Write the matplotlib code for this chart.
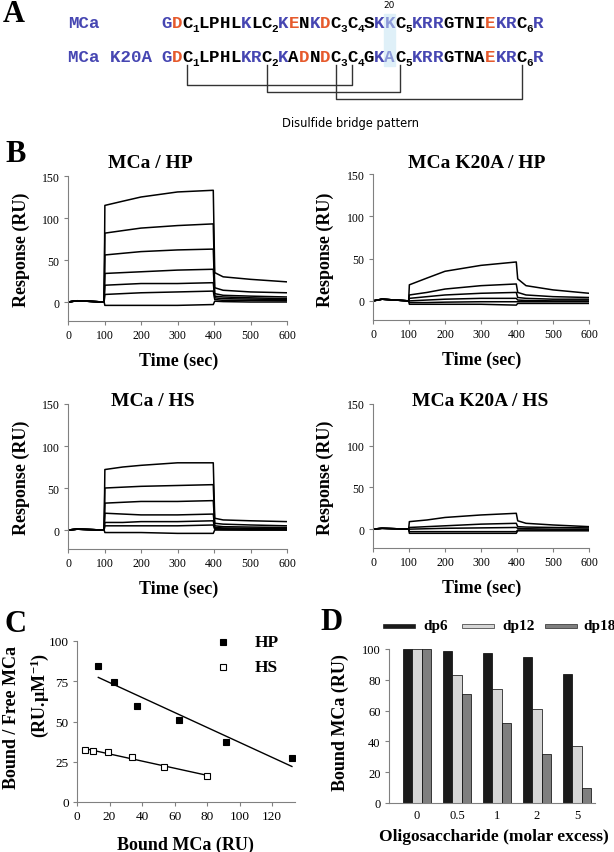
import numpy as np
import matplotlib
matplotlib.use('Agg')
import matplotlib.pyplot as plt
from matplotlib.patches import Rectangle
from matplotlib.lines import Line2D

plt.rcParams['font.family'] = ['Liberation Serif', 'DejaVu Serif']
plt.rcParams['mathtext.default'] = 'regular'

# ---------- data ----------
# panel A
seq_wt = "GDC1LPHLKLC2KENKDC3C4SKKC5KRRGTNIEKRC6R"
col_wt = "brkkkkkbkkbrkbrkkkblkbbbkkkkrbbkb"
seq_mut = "GDC1LPHLKRC2KADNDC3C4GKAC5KRRGTNAEKRC6R"
col_mut = "brkkkkkbbkbkrkrkkkblkbbbkkkkrbbkb"
bridges = [(1, 4), (2, 5), (3, 6)]

# panel B : sensorgrams (RU) read at these times (sec)
t = [0, 25, 99, 101, 150, 200, 300, 398, 402, 425, 500, 600]
hp_wt = [
    [0, 1.5, 0, 115, 120, 125, 131, 133, 35, 30, 27, 24],
    [0, 1.5, 0, 82, 85, 88, 91, 93, 17, 14, 12, 11],
    [0, 1.5, 0, 56, 58, 60, 62, 63, 10, 8, 7, 6],
    [0, 1.5, 0, 34, 35, 36, 38, 39, 7, 6, 5, 4],
    [0, 1.5, 0, 20, 21, 22, 22, 23, 5, 4, 3.5, 3],
    [0, 1.5, 0, 9, 10, 11, 12, 13, 3, 2, 2, 1.5],
    [0, 1.5, 0, -4, -4, -4, -4, -3, 1, 0.5, 0, 0],
]
hp_mut = [
    [0, 2, 0, 19, 27, 35, 42, 46, 26, 18, 13, 9],
    [0, 2, 0, 7, 10, 14, 18, 20, 10, 7, 5, 4],
    [0, 2, 0, 3, 5, 7, 9, 10, 4, 3, 2, 2],
    [0, 2, 0, 0, 1, 2, 3, 3, 1, 0.5, 0, 0],
    [0, 2, 0, -2, -2, -1.5, -1, -1, -1, -1, -1, -1],
    [0, 2, 0, -4, -4, -4, -4, -5, -3, -3, -3, -3],
]
hs_wt = [
    [0, 1, 0, 72, 75, 77, 80, 80, 14, 12, 11, 10],
    [0, 1, 0, 50, 51, 52, 53, 54, 8, 7, 6, 5],
    [0, 1, 0, 32, 33, 34, 34, 35, 5, 4, 3.5, 3],
    [0, 1, 0, 20, 19, 18, 18, 19, 3, 2.5, 2, 1.5],
    [0, 1, 0, 9, 9, 10, 10, 11, 2, 1.5, 1, 1],
    [0, 1, 0, 5, 5, 5, 5, 6, 1, 0.5, 0, 0],
    [0, 1, 0, -3, -3, -3, -4, -4, 0, 0, 0, 0],
]
hs_mut = [
    [0, 1, 0, 9, 11, 14, 17, 19, 10, 7, 5, 3],
    [0, 1, 0, 2, 3, 4, 6, 7, 3, 2.5, 2, 1.5],
    [0, 1, 0, 0, 0.5, 1, 1.5, 2, 1, 0.5, 0, 0],
    [0, 1, 0, -3, -3, -3, -3, -3, -1, -1, -1, -1],
    [0, 1, 0, -5, -5, -5, -5, -5, -2, -2, -2, -2],
]

# panel C : Scatchard
hp_x = [13.1, 23, 37.1, 62.8, 91.5, 132.1]
hp_y = [84.3, 74.3, 59.8, 51.1, 37.1, 27.1]
hs_x = [4.9, 10.1, 19.3, 34.0, 53.7, 79.8]
hs_y = [32.5, 31.5, 30.9, 27.7, 21.9, 16.4]

# panel D : competition
excess = ['0', '0.5', '1', '2', '5']
dp6 = [100, 99, 97.5, 95, 84]
dp12 = [100, 83, 74, 61, 37]
dp18 = [100, 71, 52, 32, 10]

# ---------- helpers (pixel coords, y from top) ----------
W, H = 614, 853


def fx(x):
    return x / W


def fy(y):
    return 1 - y / H


def box(x0, y0, x1, y1):
    return [x0 / W, 1 - y1 / H, (x1 - x0) / W, (y1 - y0) / H]


fig = plt.figure(figsize=(6.14, 8.53), dpi=100)

BLUE = '#4646b2'
RED = '#e65a2c'
LIGHT = '#8c9ad8'
cmap = {'b': BLUE, 'r': RED, 'k': 'black', 'l': LIGHT}


def letter(x, y, s):
    fig.text(fx(x), fy(y), s, fontsize=22, fontweight='bold', va='baseline')


# ---------- panel A ----------
letter(3, 22, 'A')
mono = dict(family='Liberation Mono', fontweight='bold')
fig.text(fx(68), fy(28), 'MCa', color=BLUE, fontsize=12.6, va='baseline', **mono)
fig.text(fx(68), fy(62), 'MCa K20A', color=BLUE, fontsize=12.6, va='baseline', **mono)

fig.add_artist(Rectangle((fx(384), fy(67)), 11 / W, 52 / H, transform=fig.transFigure,
                         color='#dff0f8', zorder=0))
fig.text(fx(389), fy(6), '20', family='DejaVu Sans', fontsize=6.5, ha='center', va='center')


def draw_seq(seq, cols, base):
    x = 161
    ci = 0
    cpos = {}
    last_c = None
    for ch in seq:
        if ch.isdigit():
            fig.text(fx(x + 3), fy(base + 4), ch, color='black', fontsize=8,
                     ha='center', va='baseline', **mono)
            cpos[int(ch)] = last_c
            x += 6
        else:
            fig.text(fx(x + 5.25), fy(base), ch, color=cmap[cols[ci]], fontsize=12.6,
                     ha='center', va='baseline', **mono)
            if ch == 'C':
                last_c = x + 5.25
            ci += 1
            x += 10.5
    return cpos


draw_seq(seq_wt, col_wt, 28)
cpos = draw_seq(seq_mut, col_mut, 62)
for (a, b), yb in zip(bridges, [86, 93, 100]):
    xa, xb = cpos[a], cpos[b]
    fig.add_artist(Line2D([fx(xa), fx(xa), fx(xb), fx(xb)], [fy(66), fy(yb), fy(yb), fy(66)],
                          transform=fig.transFigure, color='#333333', lw=1))
fig.text(fx(351), fy(123), 'Disulfide bridge pattern', family='DejaVu Sans', fontsize=8.3,
         ha='center', va='center')

# ---------- panel B ----------
letter(5, 162, 'B')
GREY = '#808080'


def sensor(b, curves, title, tx, ty, lx, ly):
    ax = fig.add_axes(box(*b))
    for c in curves:
        ax.plot(t, c, color='black', lw=1.1)
    ax.set_xlim(0, 600)
    ax.set_ylim(-22, 150)
    ax.set_xticks(range(0, 601, 100))
    ax.set_yticks([0, 50, 100, 150])
    for s in ['top', 'right']:
        ax.spines[s].set_visible(False)
    for s in ['left', 'bottom']:
        ax.spines[s].set_color(GREY)
    ax.tick_params(direction='out', length=3, color=GREY, labelsize=8.5, pad=3)
    fig.text(fx(tx), fy(ty), title, fontsize=14, fontweight='bold', ha='center', va='baseline')
    fig.text(fx(lx), fy(ly), 'Response (RU)', fontsize=13, fontweight='bold',
             rotation=90, ha='center', va='center')
    fig.text(fx((b[0] + b[2]) / 2 + 1), fy(b[3] + 40), 'Time (sec)', fontsize=13,
             fontweight='bold', ha='center', va='center')
    return ax


sensor((68, 177, 287, 321.5), hp_wt, 'MCa / HP', 150, 168, 21, 250)
sensor((373, 175, 589, 320.5), hp_mut, 'MCa K20A / HP', 477, 168, 325, 250)
sensor((68, 405, 287, 549.5), hs_wt, 'MCa / HS', 153, 406, 21, 478)
sensor((373, 405, 589, 548.5), hs_mut, 'MCa K20A / HS', 480, 406, 325, 478)

# ---------- panel C ----------
letter(5, 632, 'C')
axc = fig.add_axes(box(77, 642, 295, 803))
for xs, ys, fc in [(hp_x, hp_y, 'black'), (hs_x, hs_y, 'white')]:
    k, b0 = np.polyfit(xs, ys, 1)
    xx = np.array([min(xs), max(xs)])
    axc.plot(xx, k * xx + b0, color='black', lw=1)
    axc.plot(xs, ys, 's', mfc=fc, mec='black', ms=5, mew=0.8, zorder=3)
axc.set_xlim(0, 134)
axc.set_ylim(0, 100)
axc.set_xticks(range(0, 121, 20))
axc.set_yticks([0, 25, 50, 75, 100])
for s in ['top', 'right']:
    axc.spines[s].set_visible(False)
for s in ['left', 'bottom']:
    axc.spines[s].set_color(GREY)
axc.tick_params(direction='out', length=3, color=GREY, labelsize=9.5, pad=3)
fig.text(fx(185), fy(845), 'Bound MCa (RU)', fontsize=13, fontweight='bold',
         ha='center', va='center')
fig.text(fx(12), fy(718), 'Bound / Free MCa', fontsize=13, fontweight='bold',
         rotation=90, ha='center', va='center')
fig.text(fx(40), fy(695), '(RU.µM$^{-1}$)', fontsize=13, fontweight='bold',
         rotation=90, ha='center', va='center')
for yy, fc, lab in [(643, 'black', 'HP'), (668, 'white', 'HS')]:
    fig.add_artist(Line2D([fx(223)], [fy(yy)], marker='s', mfc=fc, mec='black', ms=5,
                          mew=0.8, transform=fig.transFigure))
    fig.text(fx(255), fy(yy), lab, fontsize=12.5, fontweight='bold', va='center')

# ---------- panel D ----------
letter(320, 630, 'D')
axd = fig.add_axes(box(389, 650, 595, 804))
idx = np.arange(len(excess))
series = [(dp6, '#1a1a1a', -0.235), (dp12, '#d6d6d6', 0.0), (dp18, '#7f7f7f', 0.235)]
for vals, c, off in series:
    axd.bar(idx + off, vals, width=0.235, color=c, edgecolor='black', lw=0.5)
axd.set_xlim(-0.7, 4.45)
axd.set_ylim(0, 100)
axd.set_xticks(idx)
axd.set_xticklabels(excess)
axd.set_yticks(range(0, 101, 20))
for s in ['top', 'right']:
    axd.spines[s].set_visible(False)
for s in ['left', 'bottom']:
    axd.spines[s].set_color(GREY)
axd.tick_params(axis='x', length=0, labelsize=9, pad=4)
axd.tick_params(axis='y', direction='out', length=3, color=GREY, labelsize=9, pad=3)
fig.text(fx(494), fy(837), 'Oligosaccharide (molar excess)', fontsize=12.5, fontweight='bold',
         ha='center', va='center')
fig.text(fx(340), fy(723), 'Bound MCa (RU)', fontsize=13, fontweight='bold',
         rotation=90, ha='center', va='center')
for (x0, tx), (vals, c, off), lab in zip([(383, 423), (462, 502), (545, 583)], series,
                                         ['dp6', 'dp12', 'dp18']):
    fig.add_artist(Rectangle((fx(x0), fy(629)), 32 / W, 4 / H, transform=fig.transFigure,
                             facecolor=c, edgecolor='black', lw=0.4))
    fig.text(fx(tx), fy(627), lab, fontsize=11, fontweight='bold', va='center')

fig.savefig('out.png', dpi=100)
